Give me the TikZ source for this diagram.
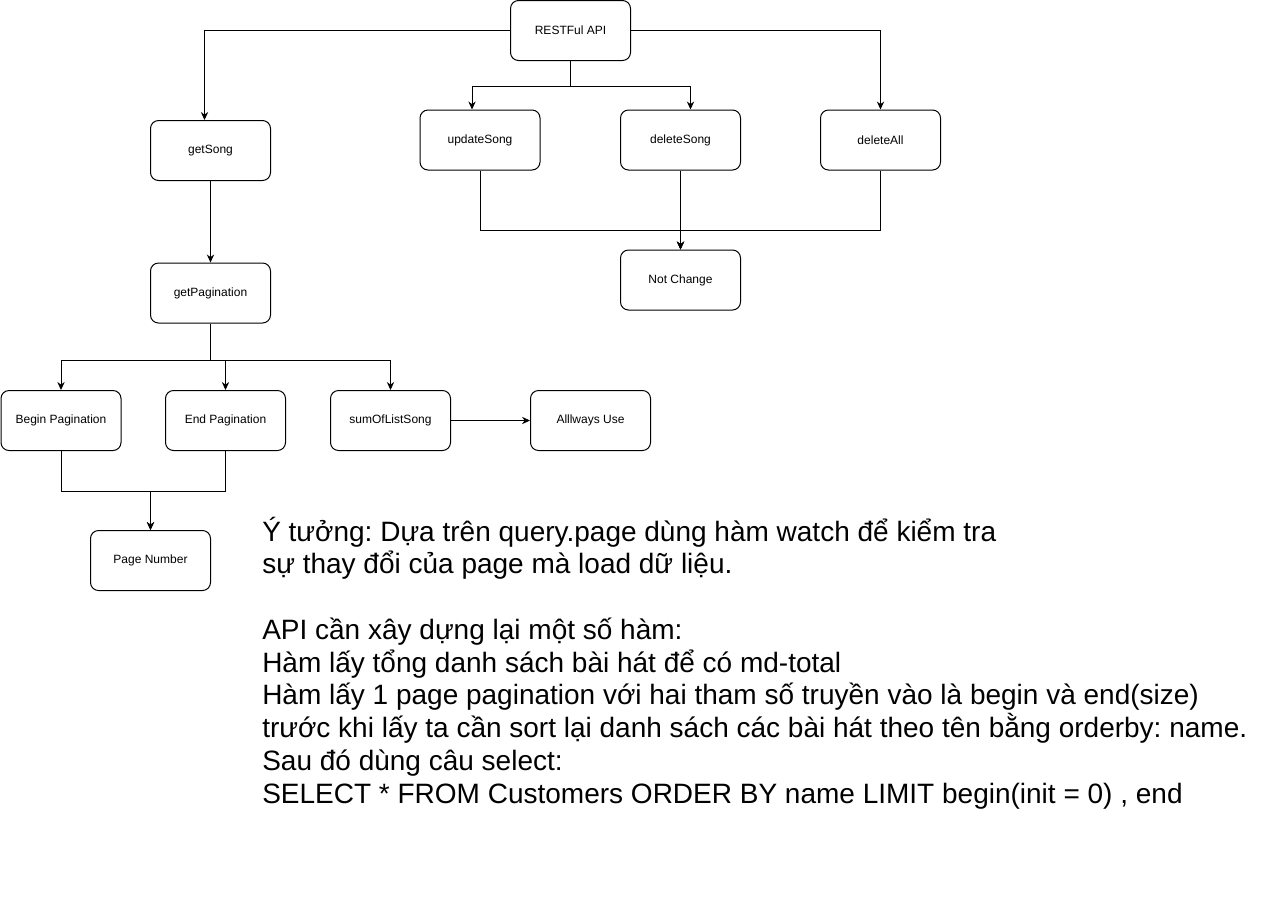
\documentclass[tikz,border=0pt]{standalone}
\usepackage{fontspec}
\setmainfont{Liberation Sans}
\usetikzlibrary{arrows.meta}
\frenchspacing

\tikzset{
  scatola/.style={draw, rounded corners=6pt, minimum width=90pt, minimum height=45pt,
    line width=0.75pt, inner sep=0pt, font=\fontsize{9}{11}\selectfont},
  freccia/.style={-{Stealth[length=6pt,width=5.5pt]}, line width=0.75pt},
  testo/.style={inner sep=0pt, align=left, font=\fontsize{21}{24.56}\selectfont}
}

\newcommand{\scatola}[4]{ % #1 nome del nodo, (#2,#3) centro in pixel
  \node[scatola] (#1) at (#2,#3) {#4};
}

\begin{document}
\begin{tikzpicture}[x=0.75pt, y=-0.75pt]
    \useasboundingbox (0,0) rectangle (1262,908);

    \scatola{api}{570.5}{30.5}{RESTFul API}
    \scatola{getSong}{210.5}{150.5}{getSong}
    \scatola{updateSong}{480}{140}{updateSong}
    \scatola{deleteSong}{680.5}{140}{deleteSong}
    \scatola{deleteAll}{880.5}{140}{deleteAll}
    \scatola{notChange}{680.5}{280}{Not Change}
    \scatola{getPagination}{210.5}{293}{getPagination}
    \scatola{beginPag}{61}{420.5}{Begin Pagination}
    \scatola{endPag}{225.5}{420.5}{End Pagination}
    \scatola{sumList}{390.5}{420.5}{sumOfListSong}
    \scatola{allways}{590.5}{420.5}{Alllways Use}
    \scatola{pageNum}{150.5}{560.5}{Page Number}

    \draw[freccia] (api.west) -| ([xshift=-4.5pt]getSong.north);
    \draw[freccia] (api.east) -| (deleteAll.north);
    \draw[freccia] (api.south) -- ++(0,25) -| ([xshift=-6pt]updateSong.north);
    \draw[freccia] (api.south) -- ++(0,25) -| ([xshift=7.5pt]deleteSong.north);

    \draw[freccia] (updateSong.south) -- ++(0,60) -| (notChange.north);
    \draw[freccia] (deleteAll.south) -- ++(0,60) -| (notChange.north);
    \draw[freccia] (deleteSong) -- (notChange);

    \draw[freccia] (getSong) -- (getPagination);
    \foreach \n in {beginPag, endPag, sumList} {
        \draw[freccia] (getPagination.south) -- ++(0,37) -| (\n.north);
    }
    \draw[freccia] (sumList) -- (allways);
    \draw[freccia] (beginPag.south) -- ++(0,40) -| (pageNum.north);
    \draw[freccia] (endPag.south) -- ++(0,40) -| (pageNum.north);

    \node[testo, anchor=north west] (idea) at (262,516.5) {Ý tưởng: Dựa trên query.page dùng hàm watch để kiểm tra\\
sự thay đổi của page mà load dữ liệu.\\[24.56pt]
API cần xây dựng lại một số hàm:\\
Hàm lấy tổng danh sách bài hát để có md-total\\
Hàm lấy 1 page pagination với hai tham số truyền vào là begin và end(size)\\
trước khi lấy ta cần sort lại danh sách các bài hát theo tên bằng orderby: name.\\
Sau đó dùng câu select:\\
SELECT * FROM Customers ORDER BY name LIMIT begin(init = 0) , end};
\end{tikzpicture}
\end{document}
